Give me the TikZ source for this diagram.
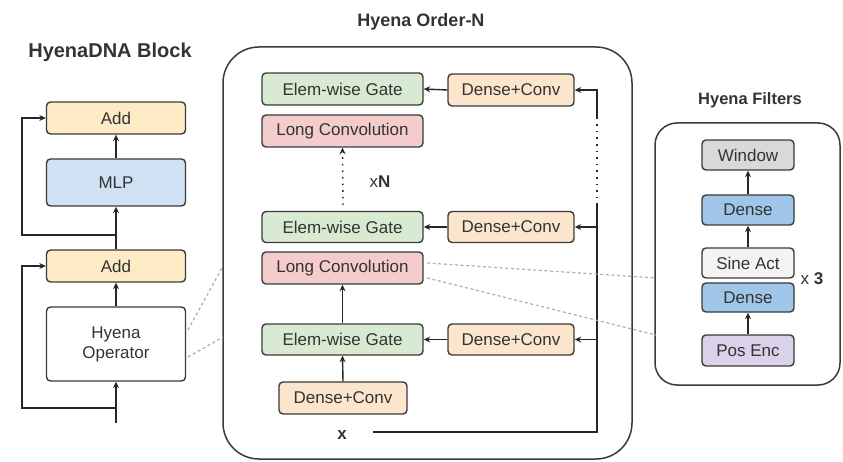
\documentclass[tikz,border=0pt]{standalone}
\usepackage{fontspec}
\setmainfont{Liberation Sans}
\usetikzlibrary{arrows.meta}

\definecolor{edge}{HTML}{3A3A3A}
\definecolor{ink}{HTML}{333333}
\definecolor{addc}{HTML}{FCEBC5}
\definecolor{mlpc}{HTML}{CFE2F3}
\definecolor{gatec}{HTML}{D9EAD3}
\definecolor{dconvc}{HTML}{FCE5CD}
\definecolor{lconvc}{HTML}{F4CCCC}
\definecolor{winc}{HTML}{D9D9D9}
\definecolor{densec}{HTML}{9FC5E8}
\definecolor{sinec}{HTML}{F3F3F3}
\definecolor{posc}{HTML}{D9D2E9}
\definecolor{zoomc}{HTML}{AEAEAE}

\begin{document}
\begin{tikzpicture}[x=1pt,y=-1pt,
  blk/.style={draw=edge, line width=1.4pt, rounded corners=4pt, inner sep=0pt,
    align=center, text=ink, font=\fontsize{17}{20}\selectfont},
  sz/.style 2 args={minimum width=#1pt, minimum height=#2pt},
  lbl/.style={text=ink, font=\fontsize{17}{20}\selectfont, inner sep=0pt},
  ttl/.style={text=ink, font=\bfseries\fontsize{#1}{22}\selectfont, inner sep=0pt},
  link/.style={draw=black!85, line width=1.4pt},
  arr/.style={link, -{Stealth[length=6.5pt,width=6pt]}},
  dotarr/.style={arr, dash pattern=on 1.6pt off 5pt},
  dotline/.style={link, dash pattern=on 1.6pt off 5pt},
  zl/.style={draw=zoomc, line width=1.2pt, dash pattern=on 3pt off 2.6pt},
  panel/.style={draw=edge, line width=1.5pt}
]
\useasboundingbox (0,0) rectangle (843,462);

% ---------- HyenaDNA block ----------
\node[ttl=20] (tBlock) at (110,52) {HyenaDNA Block};
\node[blk, sz={139}{32}, fill=addc] (addT) at (116,118) {Add};
\node[blk, sz={139}{47}, fill=mlpc] (mlp) at (116,182.5) {MLP};
\node[blk, sz={139}{32}, fill=addc] (addB) at (116,266) {Add};
\node[blk, sz={139}{74}, fill=white] (op) at (116,344) {Hyena\\Operator};

\coordinate (inB) at (116,423);
\coordinate (resB) at (116,408);
\coordinate (resT) at (116,235);
\draw[arr] (inB) -- (op.south);
\draw[arr] (op.north) -- (addB.south);
\draw[arr] (addB.north) -- (mlp.south);
\draw[arr] (mlp.north) -- (addT.south);
\draw[arr] (resB) -- (22,408) |- (addB.west);
\draw[arr] (resT) -- (22,235) |- (addT.west);

% ---------- Hyena Order-N ----------
\node[ttl=18] (tOrder) at (421,22) {Hyena Order-N};
\draw[panel, rounded corners=36pt] (223,47) rectangle (632,459);

\node[blk, sz={161}{32}, fill=gatec]  (gT) at (342.5,89) {Elem-wise Gate};
\node[blk, sz={126}{32}, fill=dconvc] (dT) at (511,90) {Dense+Conv};
\node[blk, sz={161}{32}, fill=lconvc] (lT) at (342.5,131) {Long Convolution};
\node[blk, sz={161}{31}, fill=gatec]  (gM) at (342.5,227) {Elem-wise Gate};
\node[blk, sz={126}{31}, fill=dconvc] (dM) at (511,227) {Dense+Conv};
\node[blk, sz={161}{32}, fill=lconvc] (lM) at (342.5,268) {Long Convolution};
\node[blk, sz={161}{31}, fill=gatec]  (gB) at (342.5,339.5) {Elem-wise Gate};
\node[blk, sz={126}{31}, fill=dconvc] (dB) at (511,339.5) {Dense+Conv};
\node[blk, sz={128}{32}, fill=dconvc] (dL) at (343,398) {Dense+Conv};

\node[lbl] (xN) at (380,182) {x\textbf{N}};
\node[lbl, font=\bfseries\fontsize{17}{20}\selectfont] (xin) at (342,435) {x};

\draw[arr] (dL.north) -- (gB.south);
\draw[arr] (gB.north) -- (lM.south);
\coordinate (rep) at (343,205);
\draw[dotarr] (rep) -- (lT.south);

\draw[arr] (dT.west) -- (gT.east);
\draw[arr] (dM.west) -- (gM.east);
\draw[arr] (dB.west) -- (gB.east);

% feed of the input x up the right side
\coordinate (xs) at (373,432);
\coordinate (fc) at (597,432);
\coordinate (fd1) at (597,205);
\coordinate (fd2) at (597,118);
\draw[link] (xs) -- (fc) -- (fd1);
\draw[dotline] (fd1) -- (fd2);
\draw[arr] (fd2) |- (dT.east);
\draw[arr] (dM.east -| fc) -- (dM.east);
\draw[arr] (dB.east -| fc) -- (dB.east);

% ---------- Hyena Filters ----------
\node[ttl=16.5] (tFilt) at (750,100) {Hyena Filters};
\draw[panel, rounded corners=22pt] (655,123) rectangle (840,385);

\node[blk, sz={92}{30}, fill=winc]   (win)  at (748,155) {Window};
\node[blk, sz={92}{30}, fill=densec] (den1) at (748,210) {Dense};
\node[blk, sz={92}{30}, fill=sinec]  (sine) at (748,263) {Sine Act};
\node[blk, sz={92}{29}, fill=densec] (den2) at (748,297.5) {Dense};
\node[blk, sz={92}{31}, fill=posc]   (pos)  at (748,350.5) {Pos Enc};
\node[lbl] (x3) at (812,279) {x \textbf{3}};

\draw[arr] (pos.north) -- (den2.south);
\draw[arr] (sine.north) -- (den1.south);
\draw[arr] (den1.north) -- (win.south);

% ---------- zoom guides ----------
\coordinate (za) at (188,330);
\coordinate (zb) at (223,266);
\coordinate (zc) at (188,357);
\coordinate (zd) at (223,337);
\draw[zl] (za) -- (zb);
\draw[zl] (zc) -- (zd);
\coordinate (ze) at (427,263);
\coordinate (zf) at (656,278);
\coordinate (zg) at (427,278);
\coordinate (zh) at (656,335);
\draw[zl] (ze) -- (zf);
\draw[zl] (zg) -- (zh);
\end{tikzpicture}
\end{document}
